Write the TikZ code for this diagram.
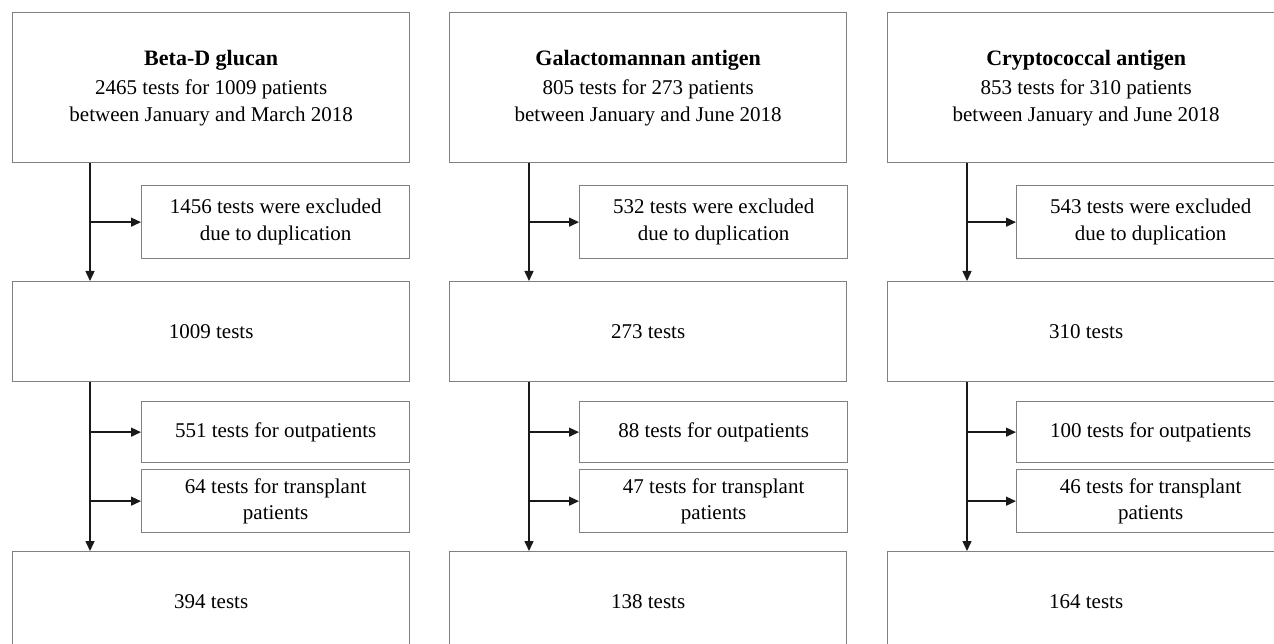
\documentclass[tikz,border=0pt]{standalone}
\usepackage{fontspec}
\setmainfont{Liberation Serif}
\usetikzlibrary{arrows.meta}
\tikzset{
  box/.style={draw=black!50, line width=1.3pt, fill=white, align=center,
    inner sep=0pt, anchor=north west, font=\fontsize{21}{26.5}\selectfont},
  bigbox/.style={box, minimum width=397pt},
  sidebox/.style={box, minimum width=268pt},
  arr/.style={draw=black!90, line width=1.4pt, -{Triangle[length=10pt,width=9pt]}},
}
\begin{document}
\begin{tikzpicture}[x=1pt,y=-1pt]
\clip (0,0) rectangle (1274,644);
\fill[white] (0,0) rectangle (1274,644);
% ---------- column 1 ----------
\node[bigbox, minimum height=150pt] (t1) at (12,12)
  {{\fontsize{22}{26.5}\selectfont\bfseries Beta-D glucan}\\[3pt]2465 tests for 1009 patients\\between January and March 2018};
\node[sidebox, minimum height=73pt] (e1) at (141,185) {1456 tests were excluded\\due to duplication};
\node[bigbox, minimum height=100pt] (m1) at (12,281) {1009 tests};
\node[sidebox, minimum height=61pt] (o1) at (141,401) {551 tests for outpatients};
\node[sidebox, minimum height=63pt] (p1) at (141,469) {64 tests for transplant\\patients};
\node[bigbox, minimum height=100pt] (b1) at (12,551) {394 tests};
\coordinate (s1) at (90,0);
% ---------- column 2 ----------
\node[bigbox, minimum height=150pt] (t2) at (449,12)
  {{\fontsize{22}{26.5}\selectfont\bfseries Galactomannan antigen}\\[3pt]805 tests for 273 patients\\between January and June 2018};
\node[sidebox, minimum height=73pt] (e2) at (579,185) {532 tests were excluded\\due to duplication};
\node[bigbox, minimum height=100pt] (m2) at (449,281) {273 tests};
\node[sidebox, minimum height=61pt] (o2) at (579,401) {88 tests for outpatients};
\node[sidebox, minimum height=63pt] (p2) at (579,469) {47 tests for transplant\\patients};
\node[bigbox, minimum height=100pt] (b2) at (449,551) {138 tests};
\coordinate (s2) at (529,0);
% ---------- column 3 ----------
\node[bigbox, minimum height=150pt] (t3) at (887,12)
  {{\fontsize{22}{26.5}\selectfont\bfseries Cryptococcal antigen}\\[3pt]853 tests for 310 patients\\between January and June 2018};
\node[sidebox, minimum height=73pt] (e3) at (1016,185) {543 tests were excluded\\due to duplication};
\node[bigbox, minimum height=100pt] (m3) at (887,281) {310 tests};
\node[sidebox, minimum height=61pt] (o3) at (1016,401) {100 tests for outpatients};
\node[sidebox, minimum height=63pt] (p3) at (1016,469) {46 tests for transplant\\patients};
\node[bigbox, minimum height=100pt] (b3) at (887,551) {164 tests};
\coordinate (s3) at (967,0);
% ---------- connectors ----------
\foreach \i in {1,2,3}{
  \draw[arr] (t\i.south -| s\i) -- (m\i.north -| s\i);
  \draw[arr] (e\i.west -| s\i) -- (e\i.west);
  \draw[arr] (m\i.south -| s\i) -- (b\i.north -| s\i);
  \draw[arr] (o\i.west -| s\i) -- (o\i.west);
  \draw[arr] (p\i.west -| s\i) -- (p\i.west);
}
\end{tikzpicture}
\end{document}
